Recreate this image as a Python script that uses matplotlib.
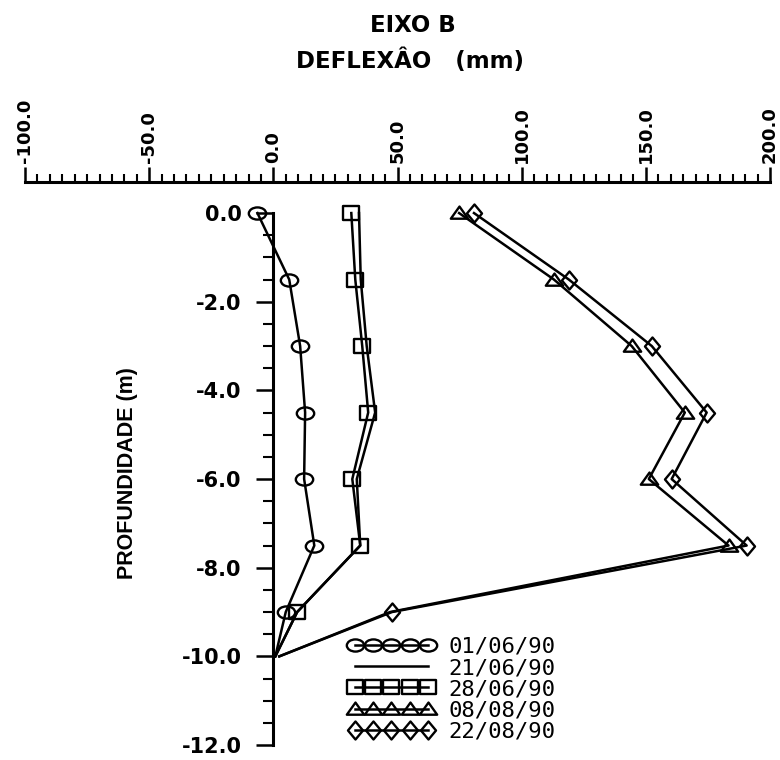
import numpy as np
import matplotlib.pyplot as plt
from matplotlib.path import Path
from matplotlib.ticker import MultipleLocator, FixedLocator, FormatStrFormatter

# depths where the readings were taken (m)
depth = [0.0, -1.5, -3.0, -4.5, -6.0, -7.5, -9.0, -10.0]

# deflection readings per date (mm)
defl_010690 = [-6.4, 6.4, 10.8, 12.8, 12.4, 16.5, 5.0, 0.8]
defl_210690 = [34.5, 35.2, 37.6, 41.0, 33.6, 35.0, 9.6, 0.8]
defl_280690 = [31.4, 33.0, 35.8, 38.2, 31.8, 35.0, 9.6, 0.8]
defl_080890 = [74.8, 113.0, 144.3, 165.7, 151.2, 183.3, 47.0, 2.4]
defl_220890 = [80.8, 119.0, 152.4, 174.5, 160.4, 190.6, 47.8, 2.4]

dates = ['01/06/90', '21/06/90', '28/06/90', '08/08/90', '22/08/90']

# scanned markers are a bit squashed, so build them by hand
circ = Path.unit_circle()
ellipse = Path(circ.vertices * [1.0, 0.7], circ.codes)
square = Path([(-1, -0.87), (1, -0.87), (1, 0.87), (-1, 0.87), (-1, -0.87)], closed=True)
triangle = Path([(-1, -0.6), (1, -0.6), (0, 0.8), (-1, -0.6)], closed=True)
diamond = Path([(0, -1.2), (1, 0), (0, 1.2), (-1, 0), (0, -1.2)], closed=True)

fig = plt.figure(figsize=(7.8, 7.6), dpi=100)
ax = fig.add_axes([25 / 780, 0.0197, 745 / 780, 0.7408])

style = dict(color='black', lw=1.8, mfc='none', mec='black', mew=1.7)
ax.plot(defl_010690, depth, marker=ellipse, ms=12.5, markevery=slice(0, 7), label=dates[0], **style)
ax.plot(defl_210690, depth, label=dates[1], **style)
ax.plot(defl_280690, depth, marker=square, ms=11, markevery=slice(0, 7), label=dates[2], **style)
ax.plot(defl_080890, depth, marker=triangle, ms=12.5, markevery=slice(0, 6), label=dates[3], **style)
ax.plot(defl_220890, depth, marker=diamond, ms=13, markevery=slice(0, 7), label=dates[4], **style)

ax.set_xlim(-100, 200)
ax.set_ylim(-12, 0.70)

# deflection ruler on top, depth axis drawn at x = 0
ax.spines['bottom'].set_visible(False)
ax.spines['right'].set_visible(False)
ax.spines['top'].set_linewidth(2.2)
ax.spines['left'].set_linewidth(2.2)
ax.spines['left'].set_position(('data', 0))
ax.spines['left'].set_bounds(-12, 0)

ax.xaxis.set_ticks_position('top')
ax.xaxis.set_major_locator(MultipleLocator(50))
ax.xaxis.set_minor_locator(MultipleLocator(5))
ax.xaxis.set_major_formatter(FormatStrFormatter('%.1f'))
ax.tick_params(axis='x', which='major', direction='out', length=11, width=1.8, pad=3)
ax.tick_params(axis='x', which='minor', direction='out', length=6, width=1.5)
for lbl in ax.get_xticklabels():
    lbl.set_rotation(90)
    lbl.set_fontfamily('DejaVu Sans')
    lbl.set_fontweight('bold')
    lbl.set_fontsize(13)

ax.set_yticks(np.arange(-12, 0.1, 2))
ax.yaxis.set_minor_locator(FixedLocator(np.arange(-12, 0.1, 0.5)))
ax.yaxis.set_major_formatter(FormatStrFormatter('%.1f'))
ax.tick_params(axis='y', which='major', direction='out', length=12, width=1.8, pad=11)
ax.tick_params(axis='y', which='minor', direction='out', length=7, width=1.5)
for lbl in ax.get_yticklabels():
    lbl.set_fontfamily('DejaVu Sans')
    lbl.set_fontweight('bold')
    lbl.set_fontsize(15)

# titles
fig.text(413 / 780, 1 - 32 / 760, 'EIXO B', ha='center', va='baseline',
         fontfamily='DejaVu Sans', fontweight='bold', fontsize=16.5)
fig.text(410 / 780, 1 - 68 / 760, 'DEFLEXÂO   (mm)', ha='center', va='baseline',
         fontfamily='DejaVu Sans', fontweight='bold', fontsize=16.5)
fig.text(128 / 780, 1 - 473 / 760, 'PROFUNDIDADE (m)', rotation=90, ha='center', va='center',
         fontfamily='Liberation Sans', fontweight='bold', fontsize=15.5)

leg = ax.legend(loc='upper left', bbox_to_anchor=(348 / 780, 1 - 637 / 760),
                bbox_transform=fig.transFigure, frameon=False, numpoints=5,
                handlelength=3.9, handletextpad=0.6, borderpad=0, borderaxespad=0,
                labelspacing=0.05, prop={'family': 'DejaVu Sans Mono', 'size': 16})

plt.savefig('out.png', dpi=100)
plt.close()
